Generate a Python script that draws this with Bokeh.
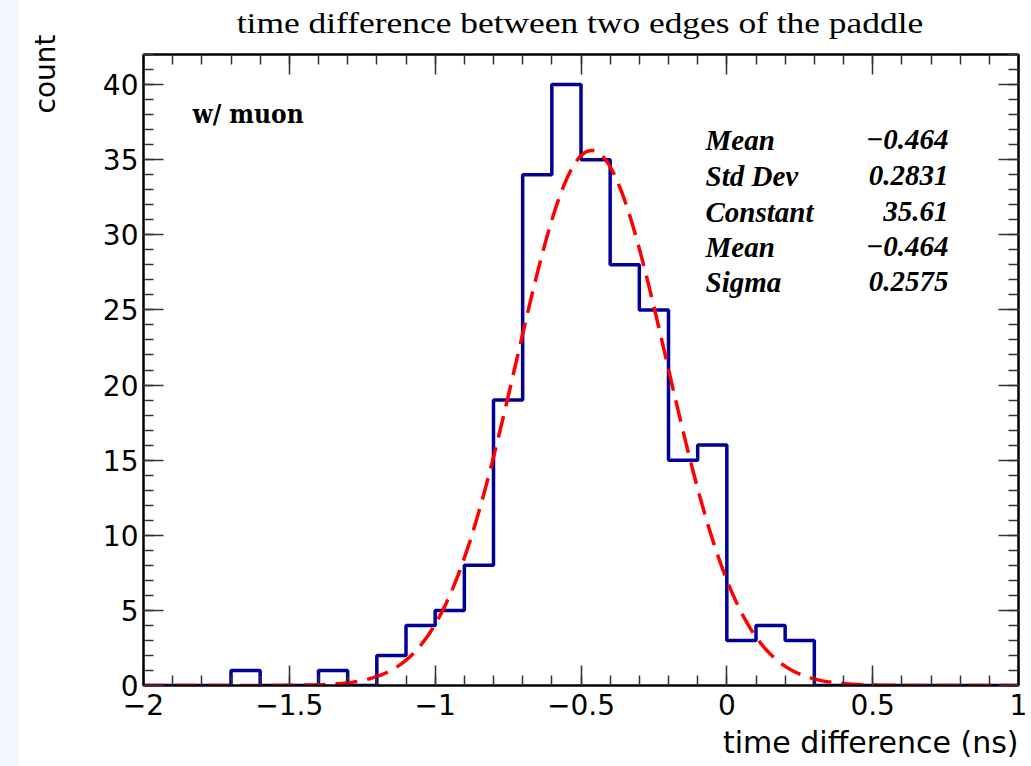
import numpy as np
from bokeh.plotting import figure
from bokeh.models import (Range1d, LinearAxis, FixedTicker, Label, Title, Div,
                          CustomLabelingPolicy)
from bokeh.layouts import row, column
from bokeh.embed import file_html
from bokeh.resources import INLINE

# Histogram: lower bin edges (ns) and counts per bin
bin_lo = [-2.0, -1.9, -1.8, -1.7, -1.6, -1.5, -1.4, -1.3, -1.2, -1.1,
          -1.0, -0.9, -0.8, -0.7, -0.6, -0.5, -0.4, -0.3, -0.2, -0.1,
          0.0, 0.1, 0.2, 0.3, 0.4, 0.5, 0.6, 0.7, 0.8, 0.9]
bin_hi_last = 1.0
counts = [0, 0, 0, 1, 0, 0, 1, 0, 2, 4,
          5, 8, 19, 34, 40, 35, 28, 25, 15, 16,
          3, 4, 3, 0, 0, 0, 0, 0, 0, 0]

# Gaussian fit parameters
fit_constant = 35.61
fit_mean = -0.464
fit_sigma = 0.2575

# Statistics box entries
stat_names = ["Mean", "Std Dev", "Constant", "Mean", "Sigma"]
stat_values = ["\u22120.464", "0.2831", "35.61", "\u22120.464", "0.2575"]

# Axis ticks
x_major = [-2, -1.5, -1, -0.5, 0, 0.5, 1]
x_major_labels = ["\u22122", "\u22121.5", "\u22121", "\u22120.5", "0", "0.5", "1"]
x_minor = [round(-2 + 0.1 * i, 1) for i in range(31)]
y_major = [0, 5, 10, 15, 20, 25, 30, 35, 40]
y_major_labels = [str(v) for v in y_major]
y_minor = list(range(0, 43))

title_text = "time difference between two edges of the paddle"
x_title = "time difference (ns)"
y_title = "count"
tag_text = "w/ muon"

X0, X1, Y0, Y1 = -2.0, 1.0, 0.0, 42.0

# page geometry (px)
LEFT_W = 70
TITLE_H = 48
PLOT_W = 1031 - LEFT_W
PLOT_H = 766 - TITLE_H

p = figure(width=PLOT_W, height=PLOT_H,
           x_range=Range1d(X0, X1), y_range=Range1d(Y0, Y1),
           output_backend="svg", toolbar_location=None,
           x_axis_location=None, y_axis_location=None,
           min_border_left=143 - LEFT_W, min_border_right=13,
           min_border_top=54 - TITLE_H, min_border_bottom=81,
           margin=0)
p.xgrid.visible = False
p.ygrid.visible = False
p.background_fill_color = "white"
p.border_fill_color = "white"
p.outline_line_color = "black"
p.outline_line_width = 2

# mirrored axes carry ticks only
no_labels = CustomLabelingPolicy(
    code="for (const i of Array.from(indices.ones())) { indices.unset(i) }; return indices")


def frame_axis(ticks, minor, labels, show_labels):
    ax = LinearAxis(ticker=FixedTicker(ticks=ticks, minor_ticks=minor))
    ax.major_tick_in = 20
    ax.major_tick_out = 0
    ax.minor_tick_in = 10
    ax.minor_tick_out = 0
    ax.axis_line_color = "black"
    ax.axis_line_width = 2
    ax.major_tick_line_color = "#333333"
    ax.major_tick_line_width = 1.5
    ax.minor_tick_line_color = "#333333"
    ax.minor_tick_line_width = 1.5
    ax.major_label_text_color = "black"
    if show_labels:
        ax.major_label_overrides = {t: l for t, l in zip(ticks, labels)}
        ax.major_label_text_font = "DejaVu Sans"
        ax.major_label_text_font_size = "28px"
    else:
        ax.major_label_overrides = {t: "" for t in ticks}
        ax.major_label_text_font_size = "1px"
        ax.major_label_policy = no_labels
        ax.major_label_standoff = 0
    return ax


bx = frame_axis(x_major, x_minor, x_major_labels, True)
bx.major_label_standoff = 8
p.add_layout(bx, "below")
p.add_layout(frame_axis(x_major, x_minor, x_major_labels, False), "above")
ly = frame_axis(y_major, y_minor, y_major_labels, True)
ly.major_label_standoff = 5
p.add_layout(ly, "left")
p.add_layout(frame_axis(y_major, y_minor, y_major_labels, False), "right")

p.add_layout(Title(text=x_title, align="right",
                   text_font="DejaVu Sans", text_font_size="30px",
                   text_font_style="normal", text_color="black"), "below")

# Histogram outline as a step line
step_x = bin_lo + [bin_hi_last]
step_y = counts + [counts[-1]]
p.step(step_x, step_y, mode="after", line_color="#000099", line_width=3.5)

# Gaussian fit curve
fx = np.linspace(X0, X1, 601)
fy = fit_constant * np.exp(-0.5 * ((fx - fit_mean) / fit_sigma) ** 2)
p.line(fx, fy, line_color="#ff0000", line_width=3.5, line_dash="22 10")

# Pixel-to-data helpers for placing text inside the frame (window px)
PX_X = (X1 - X0) / 875.0
PX_Y = (Y1 - Y0) / 631.0


def dx(px):
    return X0 + (px - 143) * PX_X


def dy(py):
    return Y0 + (685 - py) * PX_Y


p.add_layout(Label(x=dx(192), y=dy(113), text=tag_text,
                   text_font="DejaVu Serif Condensed", text_font_style="bold",
                   text_font_size="26px", text_color="black",
                   text_align="left", text_baseline="alphabetic"))

row_base = [139, 175, 211, 246, 281]
for name, val, by in zip(stat_names, stat_values, row_base):
    p.add_layout(Label(x=dx(705), y=dy(by), text=name,
                       text_font="Liberation Serif", text_font_style="bold italic",
                       text_font_size="29px", text_color="black",
                       text_align="left", text_baseline="alphabetic"))
    p.add_layout(Label(x=dx(948), y=dy(by), text=val,
                       text_font="Liberation Serif", text_font_style="bold italic",
                       text_font_size="29px", text_color="black",
                       text_align="right", text_baseline="alphabetic"))

# Page title above the frame, centred on the frame
title_div = Div(
    width=PLOT_W, height=TITLE_H, margin=0,
    styles={"background-color": "white"},
    text=("<div style=\"position:absolute; left:%dpx; top:23px; white-space:nowrap; "
          "font-family:'Liberation Serif'; font-size:30px; line-height:30px; color:black; "
          "transform:translate(-50%%,-50%%) scaleX(1.18);\">%s</div>") % (580 - LEFT_W, title_text))

# Left margin: pale strip and the vertical axis title
left_div = Div(
    width=LEFT_W, height=766, margin=0,
    styles={"background": "linear-gradient(to right, #f4f7fd 19px, #ffffff 19px)"},
    text=("<div style=\"position:absolute; left:46px; top:74px; white-space:nowrap; "
          "font-family:'DejaVu Sans'; font-size:28px; line-height:28px; color:black; "
          "transform:translate(-50%%,-50%%) rotate(-90deg);\">%s</div>") % y_title)

layout = row(left_div, column(title_div, p, spacing=0, margin=0), spacing=0, margin=0)

open("out.html", "w").write(file_html(layout, INLINE))
